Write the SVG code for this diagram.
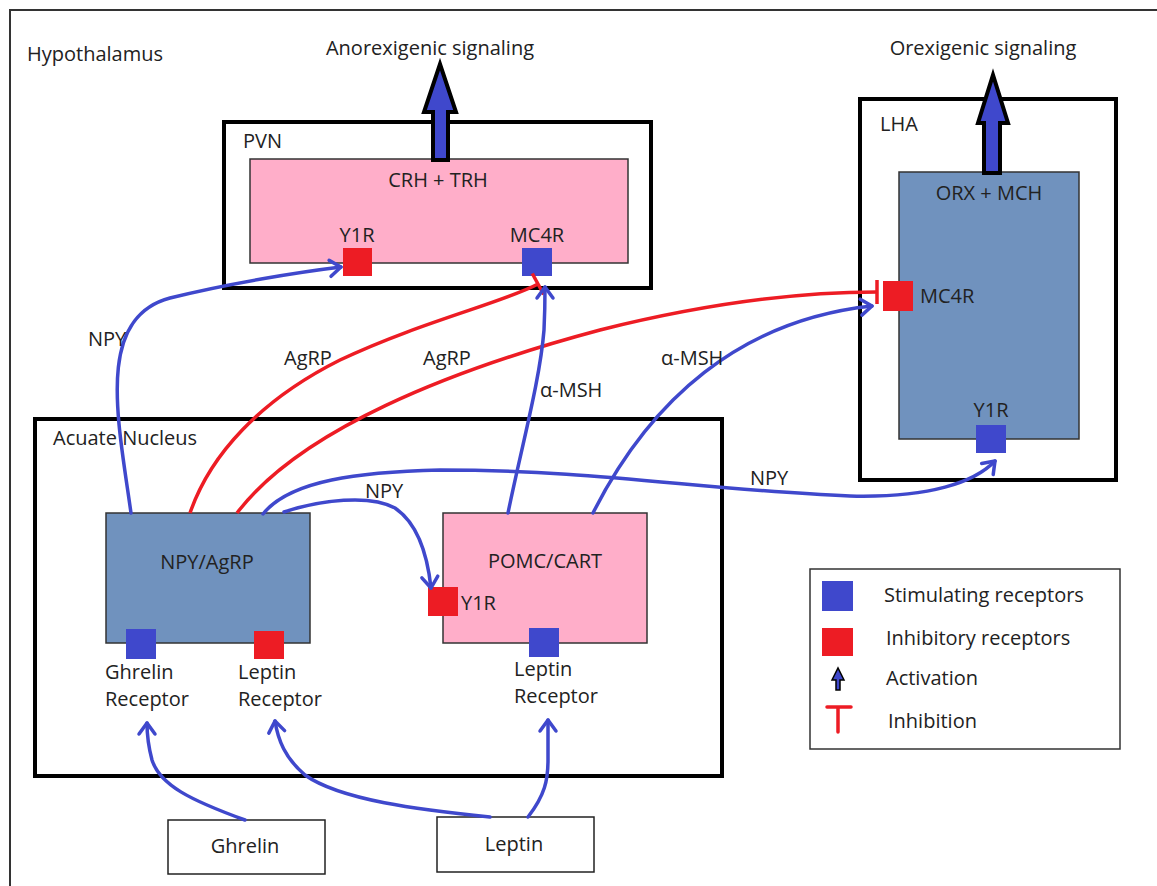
<svg xmlns="http://www.w3.org/2000/svg" width="1157" height="886" viewBox="0 0 1157 886">
<style>
text{font-family:"Open Sans","Liberation Sans",sans-serif;font-size:20px;fill:#222}
.mid{text-anchor:middle}
.region{fill:none;stroke:#000;stroke-width:4}
.cell{stroke:#333;stroke-width:1.5}
.pink{fill:#FFAEC9}
.steel{fill:#7092BE}
.blue{fill:#3F48CC}
.red{fill:#ED1C24}
.act{fill:none;stroke:#3F48CC;stroke-width:3.5;stroke-linecap:round}
.inh{fill:none;stroke:#ED1C24;stroke-width:3.5}
.big{fill:#3F48CC;stroke:#000;stroke-width:4;stroke-linejoin:miter}
.box{fill:#fff;stroke:#222;stroke-width:1.5}
</style>
<defs>
<marker id="ah" markerUnits="userSpaceOnUse" markerWidth="30" markerHeight="30" refX="0" refY="0" viewBox="-15 -15 30 30" orient="auto" overflow="visible">
<path d="M-11,-8 L0,0 L-11,8" fill="none" stroke="#3F48CC" stroke-width="3.5" stroke-linecap="round" stroke-linejoin="round"/>
</marker>
<marker id="bar" markerUnits="userSpaceOnUse" markerWidth="30" markerHeight="30" refX="0" refY="0" viewBox="-15 -15 30 30" orient="auto" overflow="visible">
<path d="M0,-12 L0,12" fill="none" stroke="#ED1C24" stroke-width="3.5"/>
</marker>
</defs>
<rect width="1157" height="886" fill="#fff"/>
<path d="M10,886 L10,10 L1157,10" fill="none" stroke="#333" stroke-width="2"/>
<text x="27" y="61">Hypothalamus</text>
<text x="430" y="55" class="mid">Anorexigenic signaling</text>
<text x="983" y="55" class="mid">Orexigenic signaling</text>

<g id="pvn">
<rect x="224" y="122" width="427" height="166" class="region"/>
<text x="243" y="148">PVN</text>
<rect x="250" y="159" width="378" height="104" class="cell pink"/>
<text x="438" y="187" class="mid">CRH + TRH</text>
<text x="357" y="242" class="mid">Y1R</text>
<rect x="343" y="248" width="29" height="28" class="red"/>
<text x="537" y="242" class="mid">MC4R</text>
<rect x="522" y="248" width="30" height="28" class="blue"/>
<polygon points="433,160 433,112 424,112 440,64 456,112 448,112 448,160" class="big"/>
</g>

<g id="lha">
<rect x="860" y="99" width="256" height="381" class="region"/>
<text x="880" y="131">LHA</text>
<rect x="899" y="172" width="180" height="267" class="cell steel"/>
<text x="989" y="200" class="mid">ORX + MCH</text>
<rect x="883" y="281" width="30" height="30" class="red"/>
<text x="920" y="303">MC4R</text>
<text x="991" y="417" class="mid">Y1R</text>
<rect x="976" y="425" width="30" height="28" class="blue"/>
<polygon points="984,173 984,123 978,123 993,75 1008,123 1000,123 1000,173" class="big"/>
</g>

<g id="arcuate">
<rect x="35" y="419" width="687" height="357" class="region"/>
<text x="53" y="445">Acuate Nucleus</text>
</g>

<g id="npy-agrp">
<rect x="106" y="513" width="204" height="130" class="cell steel"/>
<text x="207" y="569" class="mid">NPY/AgRP</text>
<rect x="126" y="629" width="30" height="30" class="blue"/>
<rect x="254" y="631" width="30" height="28" class="red"/>
<text x="105" y="679">Ghrelin</text>
<text x="105" y="706">Receptor</text>
<text x="238" y="679">Leptin</text>
<text x="238" y="706">Receptor</text>
</g>

<g id="pomc-cart">
<rect x="443" y="513" width="204" height="130" class="cell pink"/>
<text x="545" y="568" class="mid">POMC/CART</text>
<rect x="428" y="587" width="30" height="29" class="red"/>
<text x="461" y="610">Y1R</text>
<rect x="529" y="628" width="30" height="29" class="blue"/>
<text x="514" y="676">Leptin</text>
<text x="514" y="703">Receptor</text>
</g>

<g id="ghrelin">
<rect x="168" y="820" width="157" height="54" class="box"/>
<text x="245" y="853" class="mid">Ghrelin</text>
</g>

<g id="leptin">
<rect x="437" y="817" width="157" height="55" class="box"/>
<text x="514" y="851" class="mid">Leptin</text>
</g>

<g id="connectors">
<path class="act" marker-end="url(#ah)" d="M131,513 C118,420 95,318 170,298 C230,283 300,272 341,267"/>
<path class="inh" marker-end="url(#bar)" d="M190,513 C210,455 260,400 340,360 C420,322 505,302 538,284"/>
<path class="inh" marker-end="url(#bar)" d="M237,513 C300,430 450,370 600,330 C700,305 790,292 877,292"/>
<path class="act" marker-end="url(#ah)" d="M508,513 C522,445 540,380 544,330 C545,310 545,300 545,287"/>
<path class="act" marker-end="url(#ah)" d="M593,513 C650,400 740,320 872,306"/>
<path class="act" marker-end="url(#ah)" d="M263,514 C290,480 360,472 440,470 C600,470 700,490 850,496 C930,498 975,482 995,461"/>
<path class="act" marker-end="url(#ah)" d="M284,512 C320,500 370,494 395,508 C420,525 428,560 431,588"/>
<path class="act" marker-end="url(#ah)" d="M245,820 C190,800 160,785 152,760 C148,745 147,735 147,723"/>
<path class="act" marker-end="url(#ah)" d="M490,817 C420,810 340,800 305,775 C285,758 278,740 275,721"/>
<path class="act" marker-end="url(#ah)" d="M528,817 C545,795 548,780 548,760 L548,720"/>
<text x="88" y="346">NPY</text>
<text x="284" y="365">AgRP</text>
<text x="423" y="365">AgRP</text>
<text x="540" y="397">α-MSH</text>
<text x="661" y="365">α-MSH</text>
<text x="750" y="485">NPY</text>
<text x="365" y="498">NPY</text>
</g>

<g id="legend">
<rect x="810" y="569" width="310" height="180" fill="#fff" stroke="#333" stroke-width="1.5"/>
<rect x="822" y="581" width="31" height="30" class="blue"/>
<rect x="822" y="628" width="31" height="28" class="red"/>
<polygon points="836,690 836,680 832,680 838,668 844,680 840,680 840,690" fill="#3F48CC" stroke="#000" stroke-width="1.5"/>
<path d="M827,707 L851,707 M838,707 L838,732" fill="none" stroke="#ED1C24" stroke-width="3.5" stroke-linecap="round"/>
<text x="884" y="602">Stimulating receptors</text>
<text x="886" y="645">Inhibitory receptors</text>
<text x="886" y="685">Activation</text>
<text x="888" y="728">Inhibition</text>
</g>
</svg>
